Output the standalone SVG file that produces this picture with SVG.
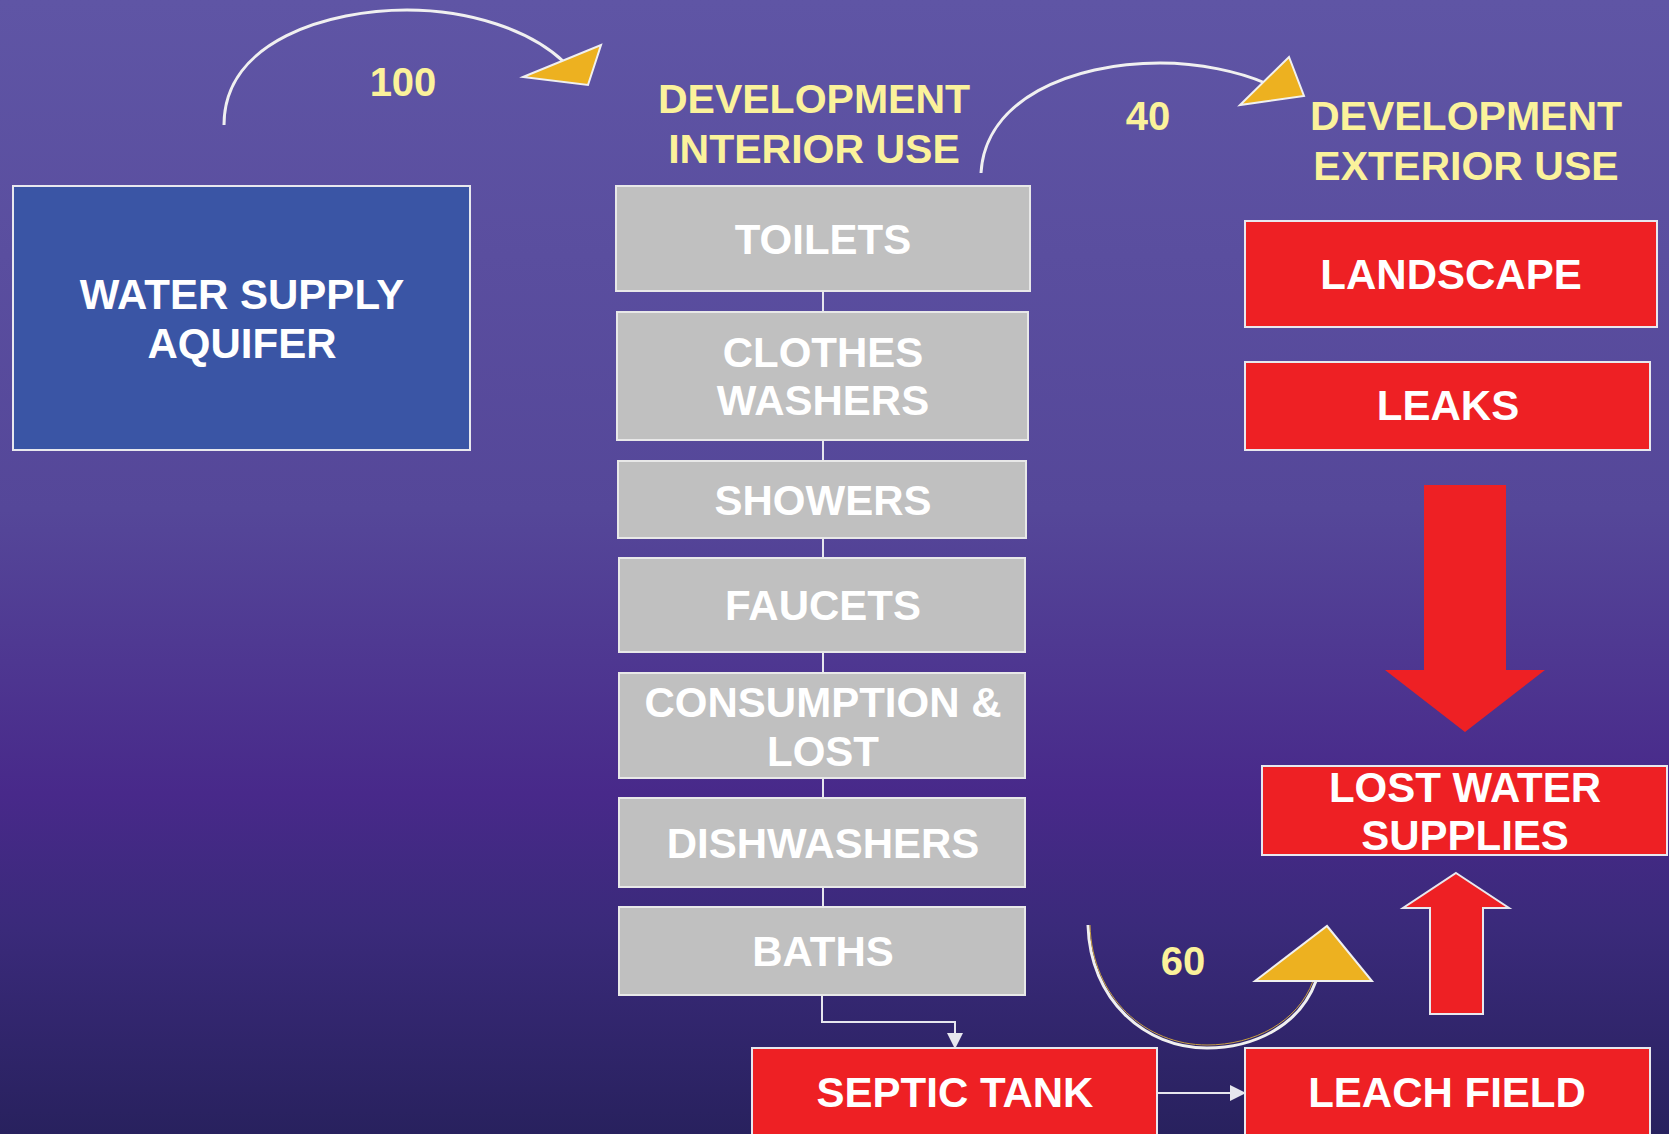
<svg xmlns="http://www.w3.org/2000/svg" width="1669" height="1134" viewBox="0 0 1669 1134">
  <defs>
    <linearGradient id="bg" x1="0" y1="0" x2="0" y2="1">
      <stop offset="0" stop-color="#5F55A5"/>
      <stop offset="0.45" stop-color="#554799"/>
      <stop offset="0.70" stop-color="#48298A"/>
      <stop offset="0.82" stop-color="#3A2A7A"/>
      <stop offset="1" stop-color="#28215E"/>
    </linearGradient>
    <marker id="tip" markerWidth="16" markerHeight="16" refX="15" refY="8" orient="auto" markerUnits="userSpaceOnUse">
      <path d="M0,0 L16,8 L0,16 Z" fill="#E6E6EE"/>
    </marker>
    <style>
      text { font-family: "Liberation Sans", Arial, sans-serif; font-weight: bold; text-anchor: middle; }
      .lbl { font-size: 42px; fill: #FFFFFF; }
      .head { font-size: 41px; fill: #FBF29B; }
      .num { font-size: 40px; fill: #FBF29B; }
      .gray { fill: #C0C0C0; stroke: #E8E8E8; stroke-width: 2; }
      .red { fill: #EE2024; stroke: #E8E8EE; stroke-width: 2; }
      .blue { fill: #3A55A5; stroke: #E8E8EE; stroke-width: 2; }
      .arc { fill: none; stroke: #F0F0F0; stroke-width: 3; }
      .gold { fill: #EDB120; stroke: #F0F0F0; stroke-width: 2; stroke-linejoin: miter; }
      .link { fill: none; stroke: #E6E6EE; stroke-width: 2; }
    </style>
  </defs>

  <rect width="1669" height="1134" fill="url(#bg)"/>

  <!-- headings -->
  <text class="head" x="814" y="113">DEVELOPMENT</text>
  <text class="head" x="814" y="163">INTERIOR USE</text>
  <text class="head" x="1466" y="130">DEVELOPMENT</text>
  <text class="head" x="1466" y="180">EXTERIOR USE</text>

  <!-- connectors -->
  <g id="connectors">
    <line class="link" x1="823" y1="291" x2="823" y2="312"/>
    <line class="link" x1="823" y1="440" x2="823" y2="461"/>
    <line class="link" x1="823" y1="538" x2="823" y2="558"/>
    <line class="link" x1="823" y1="652" x2="823" y2="673"/>
    <line class="link" x1="823" y1="778" x2="823" y2="798"/>
    <line class="link" x1="823" y1="887" x2="823" y2="907"/>
    <path class="link" d="M822,995 V1022 H955 V1048" marker-end="url(#tip)"/>
    <path class="link" d="M1157,1093 H1245" marker-end="url(#tip)"/>

    <!-- flow 100: aquifer to interior use -->
    <path class="arc" d="M224,125 C224,40 330,10 407,10 C470,10 530,30 564,62"/>
    <polygon class="gold" points="523,77 601,45 588,85"/>
    <text class="num" x="403" y="96">100</text>

    <!-- flow 40: interior to exterior use -->
    <path class="arc" d="M981,173 C985,100 1070,63 1160,63 C1200,63 1240,72 1265,83"/>
    <polygon class="gold" points="1240,105 1289,57 1304,96"/>
    <text class="num" x="1148" y="130">40</text>

    <!-- flow 60: septic system to lost water supplies -->
    <path class="arc" d="M1088,925 C1090,1000 1145,1048 1207,1048 C1255,1048 1300,1025 1316,981"/>
    <path d="M1090,925 C1092,998 1146,1045 1207,1045 C1254,1045 1298,1022 1313,981" fill="none" stroke="#C9A040" stroke-width="1"/>
    <polygon class="gold" points="1255,981 1327,926 1372,981"/>
    <text class="num" x="1183" y="975">60</text>

    <!-- block arrows -->
    <polygon points="1424,485 1506,485 1506,670 1545,670 1465,732 1385,670 1424,670" fill="#EE2024"/>
    <polygon points="1456,873 1509,908 1483,908 1483,1014 1430,1014 1430,908 1403,908" fill="#EE2024" stroke="#E8E8EE" stroke-width="2"/>
  </g>

  <!-- source -->
  <g id="aquifer">
    <rect class="blue" x="13" y="186" width="457" height="264"/>
    <text class="lbl" x="242" y="309">WATER SUPPLY</text>
    <text class="lbl" x="242" y="358">AQUIFER</text>
  </g>

  <!-- interior uses -->
  <g id="toilets">
    <rect class="gray" x="616" y="186" width="414" height="105"/>
    <text class="lbl" x="823" y="254">TOILETS</text>
  </g>
  <g id="clothes-washers">
    <rect class="gray" x="617" y="312" width="411" height="128"/>
    <text class="lbl" x="823" y="367">CLOTHES</text>
    <text class="lbl" x="823" y="415">WASHERS</text>
  </g>
  <g id="showers">
    <rect class="gray" x="618" y="461" width="408" height="77"/>
    <text class="lbl" x="823" y="515">SHOWERS</text>
  </g>
  <g id="faucets">
    <rect class="gray" x="619" y="558" width="406" height="94"/>
    <text class="lbl" x="823" y="620">FAUCETS</text>
  </g>
  <g id="consumption">
    <rect class="gray" x="619" y="673" width="406" height="105"/>
    <text class="lbl" x="823" y="717">CONSUMPTION &amp;</text>
    <text class="lbl" x="823" y="766">LOST</text>
  </g>
  <g id="dishwashers">
    <rect class="gray" x="619" y="798" width="406" height="89"/>
    <text class="lbl" x="823" y="858">DISHWASHERS</text>
  </g>
  <g id="baths">
    <rect class="gray" x="619" y="907" width="406" height="88"/>
    <text class="lbl" x="823" y="966">BATHS</text>
  </g>

  <!-- wastewater -->
  <g id="septic-tank">
    <rect class="red" x="752" y="1048" width="405" height="100"/>
    <text class="lbl" x="955" y="1107">SEPTIC TANK</text>
  </g>
  <g id="leach-field">
    <rect class="red" x="1245" y="1048" width="405" height="100"/>
    <text class="lbl" x="1447" y="1107">LEACH FIELD</text>
  </g>

  <!-- exterior uses -->
  <g id="landscape">
    <rect class="red" x="1245" y="221" width="412" height="106"/>
    <text class="lbl" x="1451" y="289">LANDSCAPE</text>
  </g>
  <g id="leaks">
    <rect class="red" x="1245" y="362" width="405" height="88"/>
    <text class="lbl" x="1448" y="420">LEAKS</text>
  </g>
  <g id="lost-water">
    <rect class="red" x="1262" y="766" width="405" height="89"/>
    <text class="lbl" x="1465" y="802">LOST WATER</text>
    <text class="lbl" x="1465" y="850">SUPPLIES</text>
  </g>
</svg>
